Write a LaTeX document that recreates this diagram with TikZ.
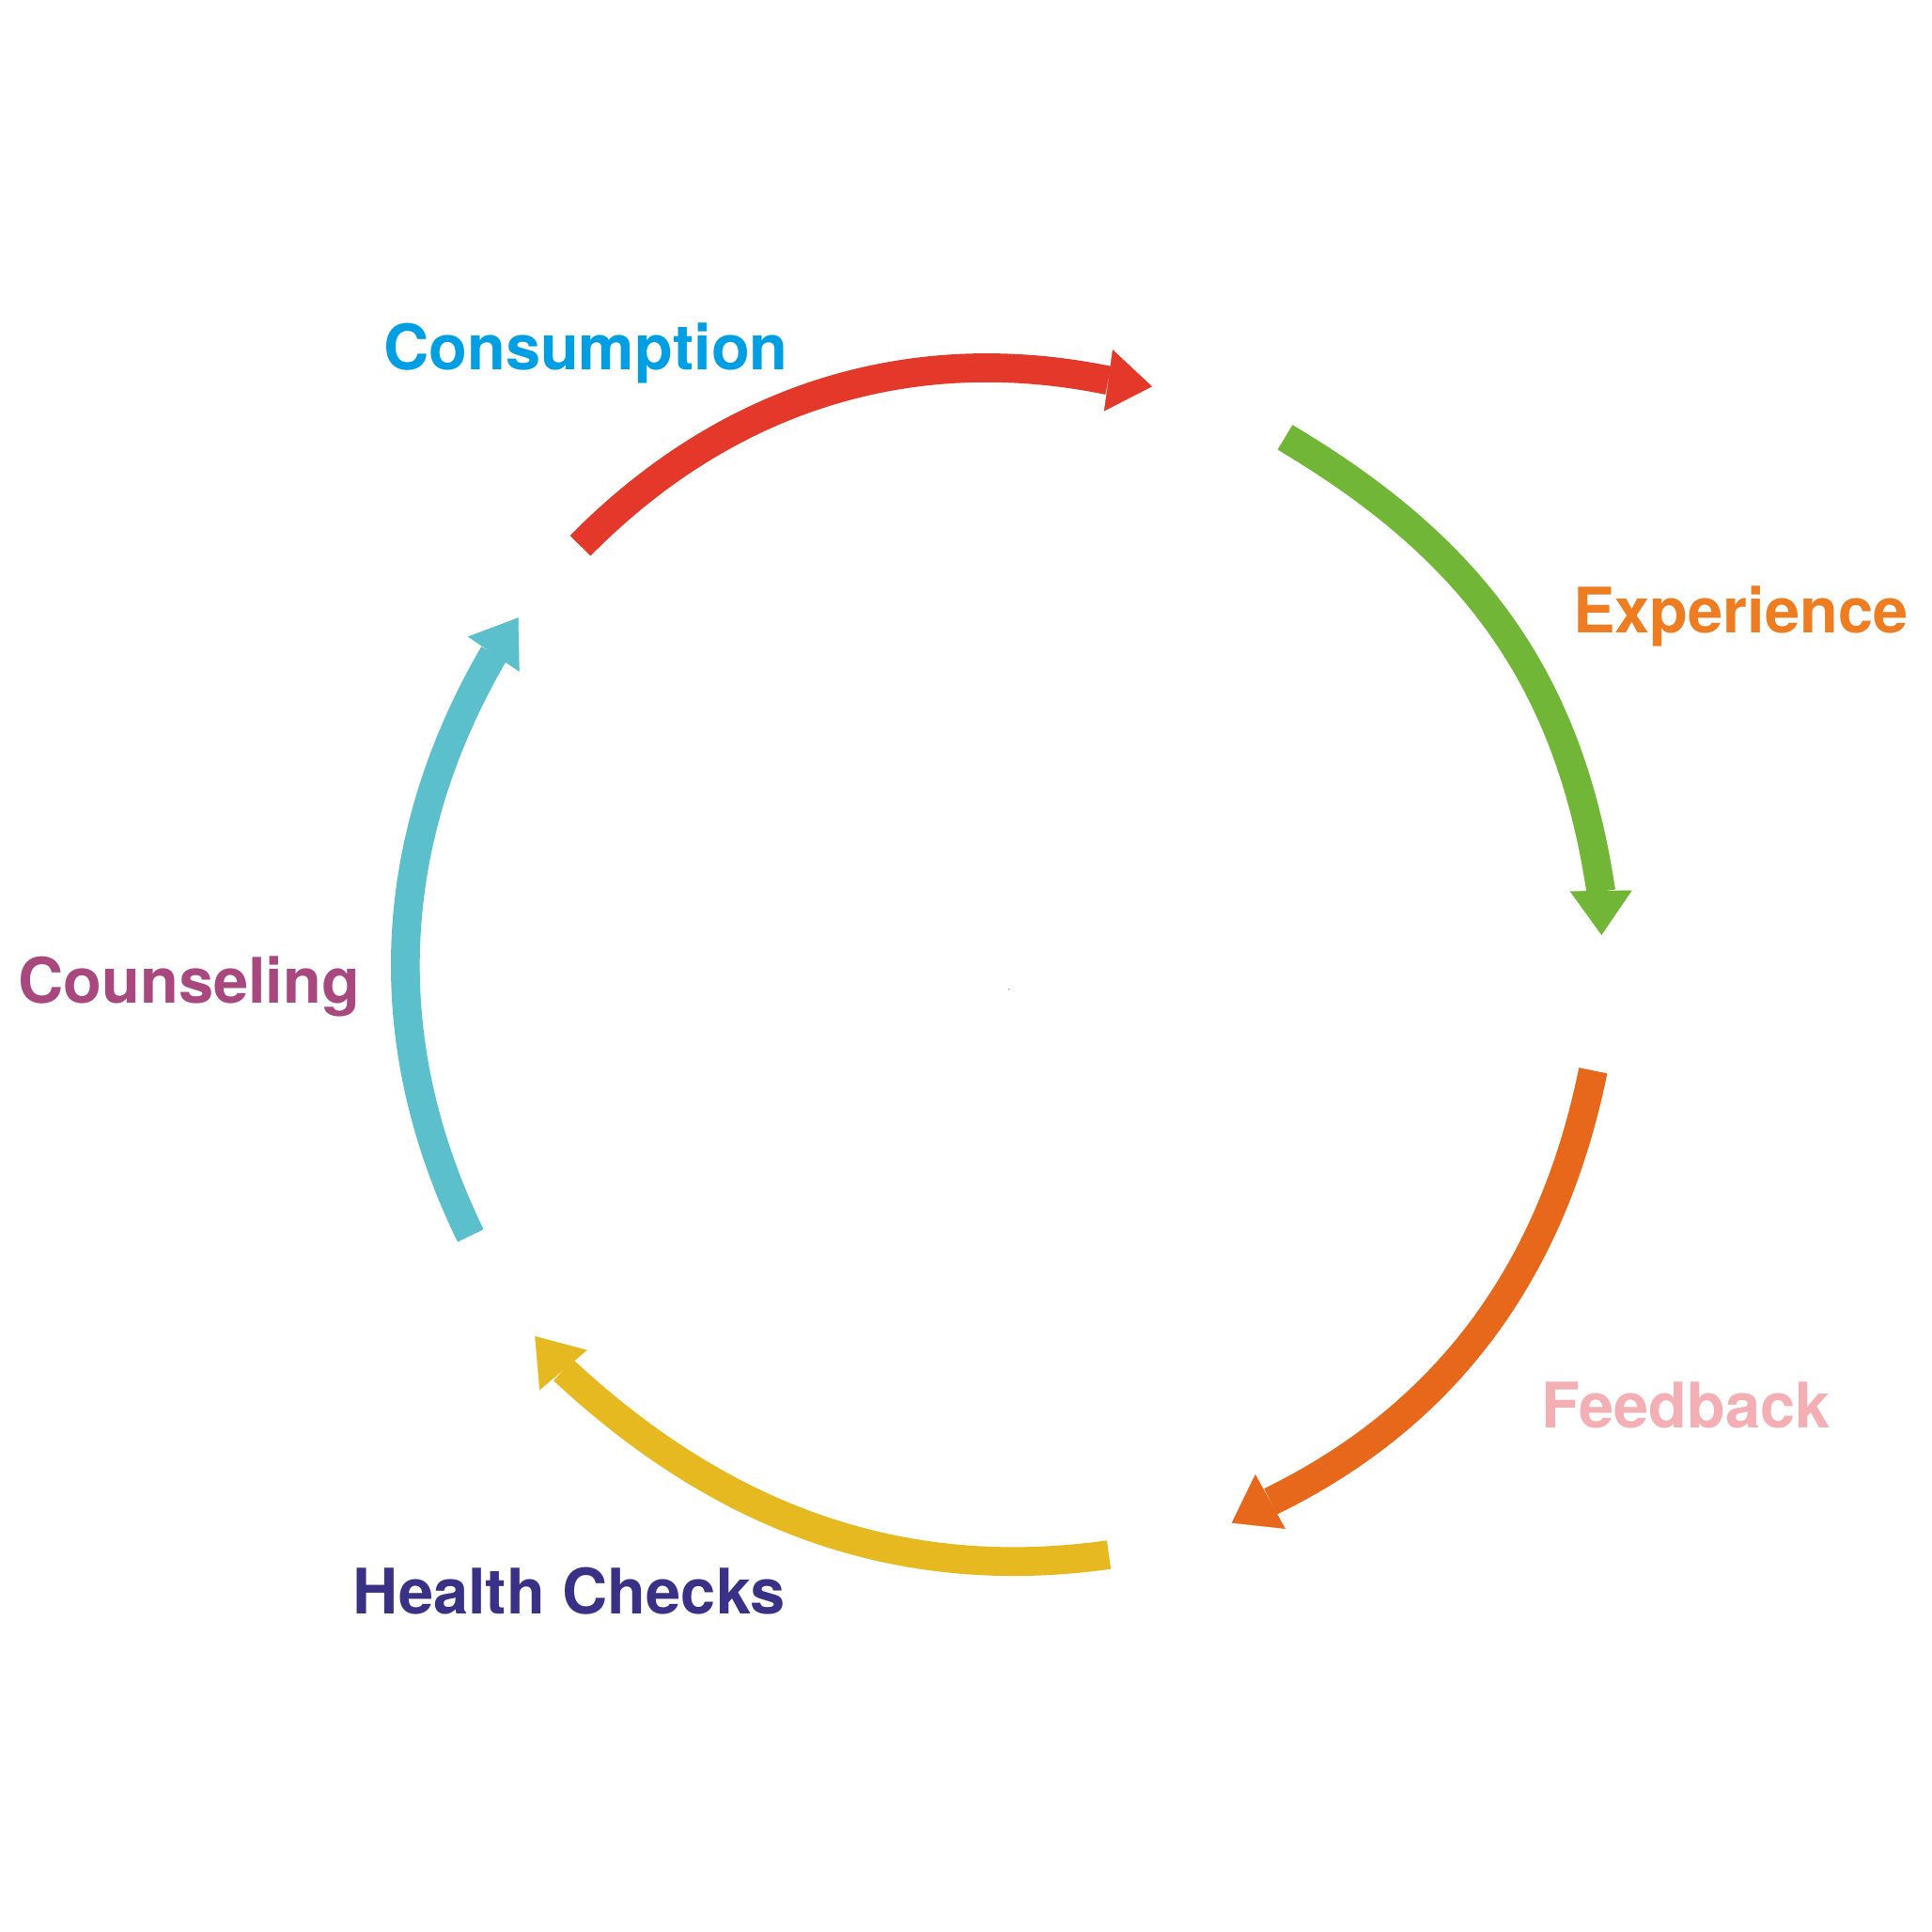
\documentclass[tikz,border=0pt]{standalone}
\usepackage{fontspec}
\setmainfont{TeX Gyre Heros}
\usepackage{tikz}
\usetikzlibrary{arrows.meta}

\definecolor{consumcol}{HTML}{009FE3}
\definecolor{expercol}{HTML}{EE7D22}
\definecolor{feedcol}{HTML}{F4AFB4}
\definecolor{healthcol}{HTML}{393185}
\definecolor{counscol}{HTML}{A8487F}
\definecolor{arcred}{HTML}{E4392A}
\definecolor{arcgreen}{HTML}{72B637}
\definecolor{arcorange}{HTML}{E8681B}
\definecolor{arcyellow}{HTML}{E5B91F}
\definecolor{arccyan}{HTML}{5BC0CB}

\begin{document}
\begin{tikzpicture}[
  band/.style={line width=3.07mm,looseness=0.95},
  headtip/.style={line width=0.1pt,-{Triangle[length=4.7mm,width=6.6mm]}},
  lbl/.style={anchor=base,inner sep=0pt,font=\fontsize{19}{22}\selectfont\bfseries}]
  \useasboundingbox (0,0) rectangle (20.56,20.56);
  % hub of the cycle
  \node[circle,fill=gray!60,inner sep=0pt,minimum size=0.6pt] (hub) at (10.737,10.033) {};
  % start of each band, back of its head (b), and its tip
  \coordinate (s1) at (6.175,14.752);
  \coordinate (b1) at (11.793,16.512);
  \coordinate (t1) at (12.26,16.447);
  \coordinate (s2) at (13.675,15.906);
  \coordinate (b2) at (17.037,11.072);
  \coordinate (t2) at (17.043,10.61);
  \coordinate (s3) at (16.953,9.167);
  \coordinate (b3) at (13.52,4.581);
  \coordinate (t3) at (13.107,4.353);
  \coordinate (s4) at (11.80,4.015);
  \coordinate (b4) at (5.995,5.98);
  \coordinate (t4) at (5.693,6.34);
  \coordinate (s5) at (5.008,7.41);
  \coordinate (b5) at (5.255,13.602);
  \coordinate (t5) at (5.517,13.987);
  % the five bands
  \draw[band,arcred] (s1) to[out=45.4,in=168.5] (b1);
  \draw[headtip,arcred] (b1) -- (t1);
  \draw[band,arcgreen,looseness=1] (s2) to[out=-30.7,in=98.5] (b2);
  \draw[headtip,arcgreen] (b2) -- (t2);
  \draw[band,arcorange] (s3) to[out=-101.5,in=26] (b3);
  \draw[headtip,arcorange] (b3) -- (t3);
  \draw[band,arcyellow] (s4) to[out=188,in=-43] (b4);
  \draw[headtip,arcyellow] (b4) -- (t4);
  \draw[band,arccyan] (s5) to[out=116,in=239.8] (b5);
  \draw[headtip,arccyan] (b5) -- (t5);
  % labels
  \node[lbl,text=consumcol] (consumption) at (6.234,16.627) {Consumption};
  \node[lbl,text=expercol] (experience) at (18.524,13.821) {Experience};
  \node[lbl,text=feedcol] (feedback) at (17.94,5.365) {Feedback};
  \node[lbl,text=healthcol] (health) at (6.057,3.386) {Health Checks};
  \node[lbl,text=counscol] (counseling) at (2.012,9.888) {Counseling};
\end{tikzpicture}
\end{document}
